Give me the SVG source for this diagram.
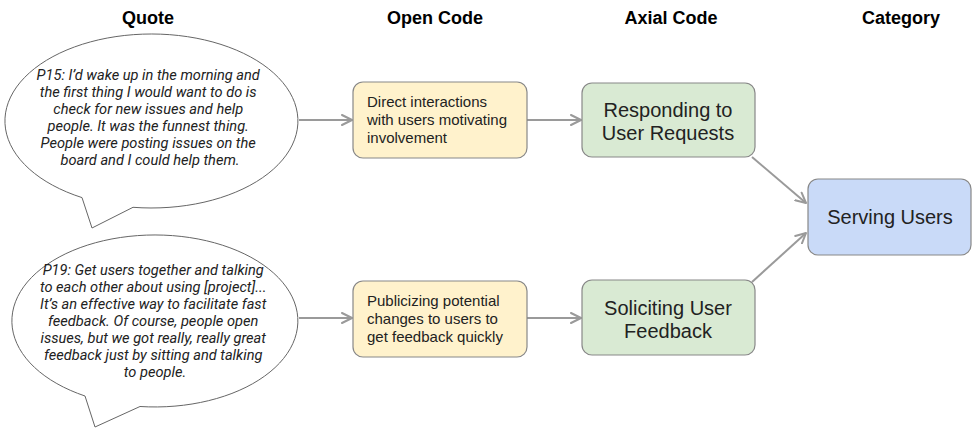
<svg xmlns="http://www.w3.org/2000/svg" width="975" height="428" viewBox="0 0 975 428">
<defs>
<style>
.hdr{font-family:"Liberation Sans",Arial,sans-serif;font-weight:bold;font-size:18px;fill:#000;text-anchor:middle}
.quote{font-family:Roboto,"Liberation Sans",sans-serif;font-style:italic;font-size:14.6px;fill:#222;text-anchor:middle}
.bubble{fill:#fff;stroke:#666;stroke-width:1}
.open{fill:#fff2cc;stroke:#888;stroke-width:1.2}
.axial{fill:#d9ead3;stroke:#888;stroke-width:1.2}
.cat{fill:#c9daf8;stroke:#888;stroke-width:1.2}
.t15{font-family:"Liberation Sans",Arial,sans-serif;font-size:15px;fill:#222}
.t20{font-family:"Liberation Sans",Arial,sans-serif;font-size:20px;fill:#222;text-anchor:middle}
.conn{stroke:#9a9a9a;stroke-width:2;fill:none;marker-end:url(#arr)}
</style>
<marker id="arr" viewBox="0 0 12 12" refX="11" refY="6" markerWidth="12" markerHeight="12" markerUnits="userSpaceOnUse" orient="auto">
<path d="M1,1 L11,6 L1,11" fill="none" stroke="#9a9a9a" stroke-width="2" stroke-linecap="round" stroke-linejoin="round"/>
</marker>
</defs>
<rect width="975" height="428" fill="#fff"/>

<g id="headers">
<text class="hdr" x="148" y="24">Quote</text>
<text class="hdr" x="435" y="24">Open Code</text>
<text class="hdr" x="671" y="24">Axial Code</text>
<text class="hdr" x="901" y="24">Category</text>
</g>

<g id="connectors">
<line class="conn" x1="299" y1="120" x2="352" y2="120"/>
<line class="conn" x1="299" y1="318" x2="352" y2="318"/>
<line class="conn" x1="527" y1="120" x2="581" y2="120"/>
<line class="conn" x1="527" y1="318" x2="581" y2="318"/>
<line class="conn" x1="752" y1="157" x2="806" y2="203"/>
<line class="conn" x1="752" y1="282" x2="806" y2="233"/>
</g>

<g id="quote1">
<path class="bubble" d="M82,197.6 L92,228 L133,207.3 A146.5 87 0 1 0 82,197.6 Z"/>
<text class="quote" x="150">
<tspan x="150" y="80">P15: I’d wake up in the morning and</tspan>
<tspan x="150" y="97">the first thing I would want to do is</tspan>
<tspan x="150" y="114">check for new issues and help</tspan>
<tspan x="150" y="131">people. It was the funnest thing.</tspan>
<tspan x="150" y="148">People were posting issues on the</tspan>
<tspan x="150" y="165">board and I could help them.</tspan>
</text>
</g>

<g id="quote2">
<path class="bubble" d="M85,396 L95,427 L140,406.5 A143 86 0 1 0 85,396 Z"/>
<text class="quote" x="155">
<tspan x="155" y="275">P19: Get users together and talking</tspan>
<tspan x="155" y="292">to each other about using [project]...</tspan>
<tspan x="155" y="309">It’s an effective way to facilitate fast</tspan>
<tspan x="155" y="326">feedback. Of course, people open</tspan>
<tspan x="155" y="343">issues, but we got really, really great</tspan>
<tspan x="155" y="360">feedback just by sitting and talking</tspan>
<tspan x="155" y="377">to people.</tspan>
</text>
</g>

<g id="open1">
<rect class="open" x="353" y="82" width="174" height="76" rx="10"/>
<text class="t15"><tspan x="367" y="107">Direct interactions</tspan><tspan x="367" y="125">with users motivating</tspan><tspan x="367" y="143">involvement</tspan></text>
</g>

<g id="open2">
<rect class="open" x="353" y="281" width="174" height="76" rx="10"/>
<text class="t15"><tspan x="367" y="306">Publicizing potential</tspan><tspan x="367" y="324">changes to users to</tspan><tspan x="367" y="342">get feedback quickly</tspan></text>
</g>

<g id="axial1">
<rect class="axial" x="582" y="83" width="173" height="74" rx="10"/>
<text class="t20"><tspan x="668" y="117">Responding to</tspan><tspan x="668" y="140">User Requests</tspan></text>
</g>

<g id="axial2">
<rect class="axial" x="582" y="280" width="173" height="75" rx="10"/>
<text class="t20"><tspan x="668" y="315">Soliciting User</tspan><tspan x="668" y="338">Feedback</tspan></text>
</g>

<g id="category">
<rect class="cat" x="808" y="179" width="163" height="76" rx="10"/>
<text class="t20" x="890" y="224">Serving Users</text>
</g>
</svg>
